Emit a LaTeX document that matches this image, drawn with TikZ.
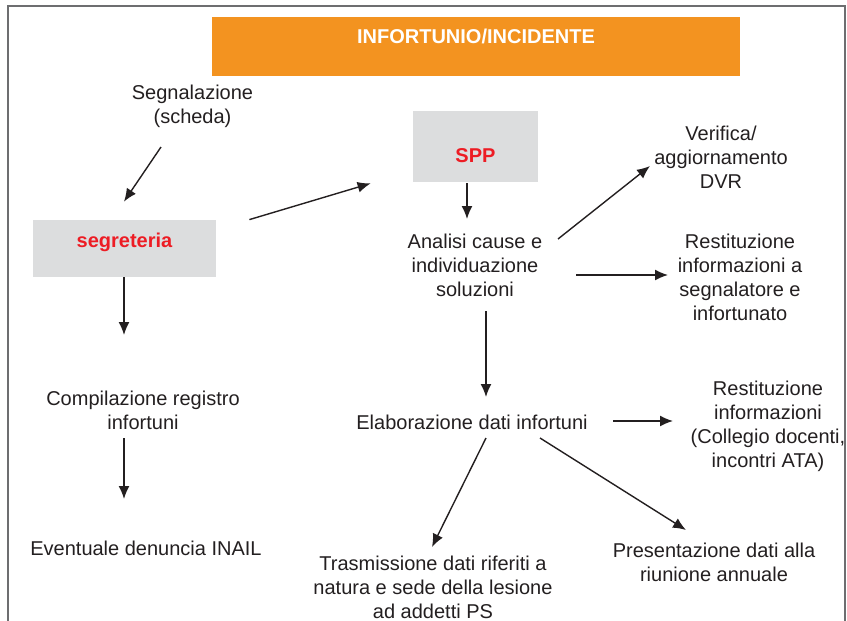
\documentclass[tikz,border=0pt]{standalone}
\usepackage{fontspec}
\setmainfont{Liberation Sans}
\usetikzlibrary{arrows.meta}
\definecolor{arancio}{HTML}{F39320}
\definecolor{grigiobox}{HTML}{DCDDDE}
\definecolor{rosso}{HTML}{ED1C24}
\definecolor{testo}{HTML}{231F20}
\definecolor{cornice}{HTML}{6D6E70}
\begin{document}
\begin{tikzpicture}[x=0.5pt,y=-0.5pt,
        every node/.style={font=\fontsize{10}{12}\selectfont, text=testo, inner sep=0pt, anchor=base},
        txt/.style={align=center},
        boxg/.style={fill=grigiobox, font=\fontsize{10}{12}\selectfont\bfseries, text=rosso},
        freccia/.style={-{Latex[length=6.5pt,width=5.5pt]}, line width=0.7pt, draw=testo}]
        \useasboundingbox (0,0) rectangle (847,621);
        \draw[cornice, line width=0.6pt] (8,621) -- (8,6) -- (845,6) -- (845,621);

        \node[fill=arancio, text=white, font=\fontsize{10}{12}\selectfont\bfseries,
              minimum width=264pt, text height=13pt, text depth=16.5pt] (titolo) at (476,43) {INFORTUNIO/INCIDENTE};

        % base = baseline of the last line
        \node[txt] (segnal)  at (192.5,123) {Segnalazione\\(scheda)};
        \node[boxg, minimum width=91.5pt, text height=13.5pt, text depth=15pt] (segret) at (124.5,247) {segreteria};
        \node[txt] (compil)  at (143  ,429) {Compilazione registro\\infortuni};
        \node[txt] (inail)   at (146  ,555) {Eventuale denuncia INAIL};

        \node[boxg, minimum width=62.5pt, text height=25.5pt, text depth=10pt] (spp) at (475.5,162) {SPP};
        \node[txt] (analisi) at (475  ,296) {Analisi cause e\\individuazione\\soluzioni};
        \node[txt] (elab)    at (472  ,429) {Elaborazione dati infortuni};
        \node[txt] (trasm)   at (433  ,618) {Trasmissione dati riferiti a\\natura e sede della lesione\\ad addetti PS};

        \node[txt] (verif)   at (721  ,188) {Verifica/\\aggiornamento\\DVR};
        \node[txt] (restseg) at (740  ,320) {Restituzione\\informazioni a\\segnalatore e\\infortunato};
        \node[txt] (restcol) at (768  ,467) {Restituzione\\informazioni\\(Collegio docenti,\\incontri ATA)};
        \node[txt] (present) at (714  ,581) {Presentazione dati alla\\riunione annuale};

        \draw[freccia] ([shift={(-31.5, 24)}]segnal.base)     -- ([shift={(-0.5,-18)}]segret.north);
        \draw[freccia] ([shift={(-0.5 ,  0)}]segret.south)    -- ([shift={(-19 ,-94)}]compil.base);
        \draw[freccia] ([shift={(-19  ,  9)}]compil.base)     -- ([shift={(-22 ,-56)}]inail.base);
        \draw[freccia] ([shift={( 33  ,  0)}]segret.north east) -- ([shift={(-42 ,  1)}]spp.south west);
        \draw[freccia] ([shift={(-8.5 ,  1)}]spp.south)       -- ([shift={(-8  ,-77)}]analisi.base);
        \draw[freccia] ([shift={( 83  ,-57)}]analisi.base)    -- ([shift={(-71 ,-22)}]verif.base);
        \draw[freccia] ([shift={(101  ,-21)}]analisi.base)    -- ([shift={(-72 ,-45)}]restseg.base);
        \draw[freccia] ([shift={( 11  , 15)}]analisi.base)    -- ([shift={( 14 ,-32)}]elab.base);
        \draw[freccia] ([shift={(141  , -8)}]elab.base)       -- ([shift={(-95 ,-46)}]restcol.base);
        \draw[freccia] ([shift={( 14  ,  9)}]elab.base)       -- ([shift={(-1  ,-71)}]trasm.base);
        \draw[freccia] ([shift={( 68  ,  9)}]elab.base)       -- ([shift={(-28 ,-51)}]present.base);
    \end{tikzpicture}
\end{document}
